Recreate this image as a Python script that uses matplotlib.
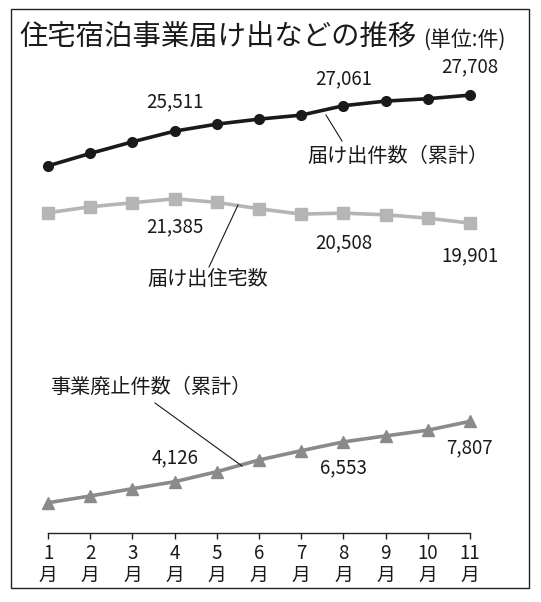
import matplotlib.pyplot as plt
from matplotlib.patches import Rectangle

plt.rcParams['font.family'] = ['Noto Sans CJK JP', 'DejaVu Sans']

# data
months = [1, 2, 3, 4, 5, 6, 7, 8, 9, 10, 11]
month_labels = [f"{m}\n月" for m in months]
filings = [23394, 24151, 24858, 25511, 25938, 26243, 26487, 27061, 27342, 27488, 27708]
houses = [20531, 20897, 21141, 21385, 21165, 20775, 20450, 20508, 20410, 20203, 19901]
closures = [2845, 3254, 3699, 4126, 4736, 5450, 6017, 6553, 6919, 7267, 7807]

W, H = 541, 602
fig = plt.figure(figsize=(W / 100, H / 100), dpi=100)

# outer frame
fig.patches.append(Rectangle((11 / W, 1 - 588 / H), 518 / W, 579 / H,
                             transform=fig.transFigure, fill=False,
                             edgecolor='#222222', linewidth=1.0))

fig.text(19 / W, 1 - 37 / H, "住宅宿泊事業届け出などの推移", fontsize=20.4,
         ha='left', va='center', color='#1a1a1a')
fig.text(423 / W, 1 - 40 / H, "(単位:件)", fontsize=15,
         ha='left', va='center', color='#1a1a1a')

# axes: x 27..491 px, y 60..533 px
ax = fig.add_axes([27 / W, 1 - 533 / H, 464 / W, 473 / H])
ax.set_xlim(0.5, 11.5)
ax.set_ylim(997, 29850)

ax.plot(months, filings, color='#1a1a1a', linewidth=2.6, marker='o',
        markersize=7, zorder=3)
ax.plot(months, houses, color='#b5b5b5', linewidth=2.6, marker='s',
        markersize=8, zorder=3)
ax.plot(months, closures, color='#8a8a8a', linewidth=2.6, marker='^',
        markersize=9, zorder=3)

for s in ['left', 'right', 'top']:
    ax.spines[s].set_visible(False)
ax.spines['bottom'].set_bounds(1, 11)
ax.spines['bottom'].set_color('#222222')
ax.spines['bottom'].set_linewidth(1.0)
ax.set_yticks([])
ax.set_xticks(months)
ax.set_xticklabels(month_labels, fontsize=13.5, linespacing=1.05, color='#1a1a1a')
ax.tick_params(axis='x', direction='out', length=4, width=1.0,
               color='#222222', pad=3)

# value labels
lab = dict(fontsize=13.5, ha='center', va='center', color='#1a1a1a')
offs = {3: (0, 29), 7: (0, 27), 10: (0, 28)}
for i, (dx, dy) in offs.items():
    ax.annotate(f"{filings[i]:,}", (months[i], filings[i]), xytext=(dx, dy),
                textcoords='offset pixels', **lab)
offs = {3: (0, -28), 7: (0, -30), 10: (0, -33)}
for i, (dx, dy) in offs.items():
    ax.annotate(f"{houses[i]:,}", (months[i], houses[i]), xytext=(dx, dy),
                textcoords='offset pixels', **lab)
offs = {3: (0, 24), 7: (0, -26), 10: (0, -26)}
for i, (dx, dy) in offs.items():
    ax.annotate(f"{closures[i]:,}", (months[i], closures[i]), xytext=(dx, dy),
                textcoords='offset pixels', **lab)

# series names with leader lines
def fig_line(x0, y0, x1, y1):
    fig.add_artist(plt.Line2D([x0 / W, x1 / W], [1 - y0 / H, 1 - y1 / H],
                              color='#1a1a1a', linewidth=0.8))

fig.text(307 / W, 1 - 157 / H, "届け出件数（累計）", fontsize=14.5,
         ha='left', va='center', color='#1a1a1a')
fig_line(326, 115, 342, 141)
fig.text(147 / W, 1 - 280 / H, "届け出住宅数", fontsize=14.5,
         ha='left', va='center', color='#1a1a1a')
fig_line(238, 205, 209, 267)
fig.text(50 / W, 1 - 387 / H, "事業廃止件数（累計）", fontsize=14.5,
         ha='left', va='center', color='#1a1a1a')
fig_line(155, 403, 242, 466)

fig.savefig("out.png", dpi=100)
